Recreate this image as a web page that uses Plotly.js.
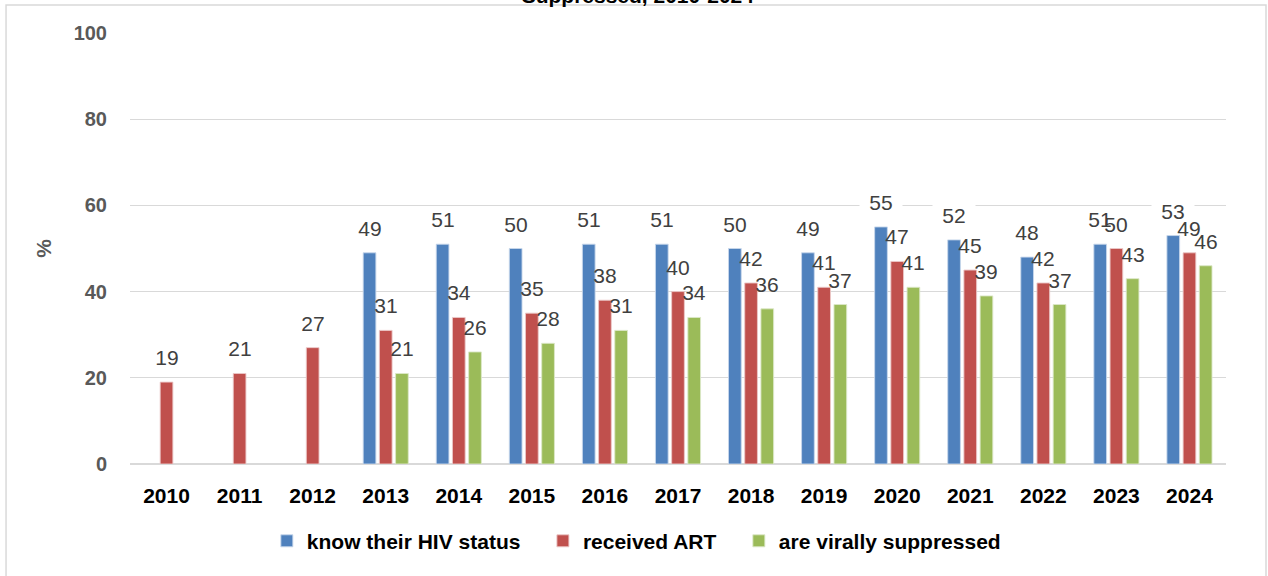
<!DOCTYPE html>
<html>
<head>
<meta charset="utf-8">
<script src="https://cdn.plot.ly/plotly-3.0.1.min.js"></script>
<style>html,body{margin:0;padding:0;background:#fff;}#chart{width:1268px;height:576px;}</style>
</head>
<body>
<div id="chart"></div>
<script>
// ---- data ----
const years = ['2010','2011','2012','2013','2014','2015','2016','2017','2018','2019','2020','2021','2022','2023','2024'];
const knowStatus   = [null, null, null, 49, 51, 50, 51, 51, 50, 49, 55, 52, 48, 51, 53];
const receivedART  = [19, 21, 27, 31, 34, 35, 38, 40, 42, 41, 47, 45, 42, 50, 49];
const viralSupp    = [null, null, null, 21, 26, 28, 31, 34, 36, 37, 41, 39, 37, 43, 46];
const seriesNames  = ['know their HIV status', 'received ART', 'are virally suppressed'];
const yTickVals    = [0, 20, 40, 60, 80, 100];
const titleText    = 'Suppressed, 2010-2024';

// ---- styles ----
const colors = ['#4F81BD', '#C0504D', '#9BBB59'];
const edge = ['rgba(200,215,235,0.9)', 'rgba(235,200,200,0.9)', 'rgba(220,232,200,0.9)'];
const labelShift = [-16.2, 0, 16.2];
const labelBg = ['#ffffff', 'rgba(0,0,0,0)', 'rgba(0,0,0,0)'];
const seriesData = [knowStatus, receivedART, viralSupp];
const FONT = 'Liberation Sans, Arial, sans-serif';
const legendPad = '\u00a0\u00a0\u00a0';

const traces = seriesData.map((vals, i) => ({
  type: 'bar',
  name: seriesNames[i] + (i < 2 ? legendPad : ''),
  x: years,
  y: vals,
  marker: {color: colors[i], line: {color: edge[i], width: 1}},
  hoverinfo: 'x+y+name'
}));

// data labels: category axis annotations use the category index
const annotations = [];
seriesData.forEach((vals, i) => {
  vals.forEach((v, j) => {
    if (v === null) return;
    annotations.push({
      x: j, y: v, xref: 'x', yref: 'y',
      text: String(v), showarrow: false,
      xshift: labelShift[i], yshift: 25,
      xanchor: 'center', yanchor: 'middle',
      width: i === 0 ? 40 : 30, height: 20, borderpad: 1,
      bgcolor: labelBg[i],
      font: {family: FONT, size: 21, color: '#404040'}
    });
  });
});

const layout = {
  width: 1268, height: 576, autosize: false,
  paper_bgcolor: '#ffffff', plot_bgcolor: '#ffffff',
  margin: {l: 130, r: 42, t: 33, b: 112, pad: 0},
  font: {family: FONT},
  title: {
    text: '<b>' + titleText + '</b>',
    font: {family: FONT, size: 21, color: '#000000'},
    xref: 'container', x: 0.503, xanchor: 'center',
    yref: 'container', y: 0.995, yanchor: 'bottom'
  },
  barmode: 'group', bargap: 0.335, bargroupgap: 0.216,
  showlegend: true,
  legend: {
    orientation: 'h', x: 0.462, xanchor: 'center', y: -0.179, yanchor: 'middle',
    font: {family: FONT, size: 21, color: '#000000', weight: 'bold'},
    itemclick: false, itemdoubleclick: false, traceorder: 'normal'
  },
  xaxis: {
    type: 'category', showgrid: false, showline: false, zeroline: false,
    range: [-0.5, years.length - 0.5],
    ticks: '', ticklabelstandoff: 17,
    tickfont: {family: FONT, size: 21, color: '#000000', weight: 'bold'},
    fixedrange: true
  },
  yaxis: {
    range: [0, 100], tickvals: yTickVals, ticktext: yTickVals.map(String),
    showgrid: true, gridcolor: '#d9d9d9', gridwidth: 1.3,
    zeroline: true, zerolinecolor: '#d9d9d9', zerolinewidth: 1.3,
    showline: false, ticks: '', ticklabelstandoff: 22,
    tickfont: {family: FONT, size: 20, color: '#595959', weight: 'bold'},
    title: {text: '<b>%</b>', font: {family: FONT, size: 21, color: '#595959'}, standoff: 16},
    automargin: false, fixedrange: true
  },
  annotations: annotations,
  shapes: [{
    type: 'rect', xref: 'paper', yref: 'paper', layer: 'above',
    x0: -0.1131, x1: 1.0365, y0: -0.30, y1: 1.065,
    line: {color: '#d9d9d9', width: 1.5}, fillcolor: 'rgba(0,0,0,0)'
  }]
};

Plotly.newPlot('chart', traces, layout, {displayModeBar: false, staticPlot: true});
</script>
</body>
</html>
